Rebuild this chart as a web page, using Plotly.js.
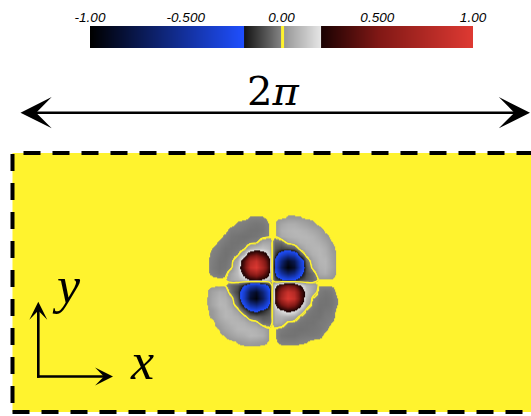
<!DOCTYPE html>
<html>
<head>
<meta charset="utf-8">
<script src="https://cdn.plot.ly/plotly-3.0.1.min.js"></script>
<style>html,body{margin:0;padding:0;background:#fff;}#chart{width:531px;height:416px;}</style>
</head>
<body>
<div id="chart"></div>
<script>
// ---------------- data ----------------
// colour-bar range and labels
const cbTickVals = [-1, -0.5, 0, 0.5, 1];
const cbTickText = ['-1.00', '-0.500', '0.00', '0.500', '1.00'];
const cbStripX = [-1, 0, 1];
const cbStripY = [0, 1];
const cbStripZ = [[-1, 0, 1], [-1, 0, 1]];

// domain: [0, 2pi] x [0, pi]; vortex centre
const domainX = [0, 2 * Math.PI];
const domainY = [0, Math.PI];
const vortexCenter = [3.12, Math.PI / 2];
const gridStep = 0.075;          // spacing of the sampled field
const gridCount = 24;            // 24 x 24 samples

const vortRows = [
 [0,0,0,0,0,0,0,0,0,0,0,0, 0,0,0,0,0,0,0,0,0,0,0,0],
 [0,0,0,0,0,0,0,0,-0.01,-0.011,-0.01,0, 0,0,0.012,0.012,0.01,0,0,0,0,0,0,0],
 [0,0,0,0,0,0,-0.012,-0.018,-0.025,-0.03,-0.025,-0.006, 0.006,0.045,0.065,0.065,0.05,0.035,0.015,0,0,0,0,0],
 [0,0,0,0,0,-0.02,-0.022,-0.028,-0.035,-0.035,-0.03,-0.006, 0.006,0.065,0.08,0.085,0.08,0.07,0.05,0.03,0,0,0,0],
 [0,0,0,0,-0.015,-0.03,-0.035,-0.038,-0.035,-0.03,-0.02,-0.006, 0.006,0.05,0.07,0.08,0.085,0.085,0.075,0.05,0.02,0,0,0],
 [0,0,0,-0.012,-0.025,-0.035,-0.035,-0.03,-0.018,-0.01,0.05,0.05, -0.05,-0.05,0.02,0.04,0.07,0.08,0.08,0.07,0.045,0.01,0,0],
 [0,0,-0.009,-0.022,-0.035,-0.035,-0.028,-0.012,0.07,0.1,0.115,0.08, -0.08,-0.115,-0.1,-0.07,0.025,0.065,0.08,0.085,0.065,0.02,0,0],
 [0,0,-0.014,-0.028,-0.038,-0.03,-0.012,0.1,0.38,0.46,0.32,0.135, -0.135,-0.32,-0.46,-0.38,-0.1,0.025,0.07,0.085,0.07,0.035,0,0],
 [0,0,-0.018,-0.035,-0.035,-0.018,0.06,0.37,0.75,0.88,0.61,0.25, -0.25,-0.61,-0.88,-0.75,-0.37,-0.06,0.04,0.08,0.085,0.04,0,0],
 [0,0,-0.022,-0.035,-0.03,-0.01,0.1,0.42,0.86,0.98,0.72,0.29, -0.29,-0.72,-0.98,-0.86,-0.42,-0.1,0.02,0.07,0.08,0.045,0,0],
 [0,0,-0.015,-0.03,-0.02,0.045,0.1,0.27,0.56,0.67,0.48,0.195, -0.195,-0.48,-0.67,-0.56,-0.27,-0.1,-0.045,0.05,0.065,0.03,0,0],
 [0,0,0,0,0,0.05,0.078,0.125,0.22,0.27,0.19,0.1, -0.1,-0.19,-0.27,-0.22,-0.125,-0.078,-0.05,0.006,0.006,0.006,0,0],
 [0,0,0,0,0,-0.05,-0.088,-0.2,-0.41,-0.48,-0.35,-0.15, 0.15,0.35,0.48,0.41,0.2,0.088,0.05,-0.006,-0.006,-0.006,0,0],
 [0,0,0.04,0.065,0.05,-0.045,-0.12,-0.38,-0.77,-0.89,-0.63,-0.26, 0.26,0.63,0.89,0.77,0.38,0.12,0.045,-0.02,-0.03,-0.025,0,0],
 [0,0,0.05,0.08,0.07,0.025,-0.09,-0.41,-0.85,-0.97,-0.71,-0.29, 0.29,0.71,0.97,0.85,0.41,0.09,-0.01,-0.03,-0.035,-0.03,-0.009,0],
 [0,0,0.05,0.085,0.08,0.04,-0.05,-0.26,-0.53,-0.63,-0.46,-0.19, 0.19,0.46,0.63,0.53,0.26,0.05,-0.018,-0.035,-0.035,-0.03,-0.009,0],
 [0,0,0.02,0.065,0.085,0.07,0.025,-0.08,-0.2,-0.25,-0.17,-0.095, 0.095,0.17,0.25,0.2,0.08,-0.012,-0.03,-0.038,-0.028,-0.025,0,0],
 [0,0,0.015,0.055,0.085,0.08,0.065,0.025,-0.05,-0.07,-0.08,-0.065, 0.065,0.08,0.07,0.05,-0.012,-0.028,-0.035,-0.035,-0.022,-0.018,0,0],
 [0,0,0,0.035,0.06,0.08,0.08,0.07,0.04,0.02,-0.045,-0.046, 0.046,0.045,-0.01,-0.018,-0.03,-0.035,-0.035,-0.025,-0.02,-0.009,0,0],
 [0,0,0,0.01,0.04,0.06,0.085,0.085,0.08,0.07,0.05,0.006, -0.006,-0.02,-0.03,-0.035,-0.038,-0.035,-0.03,-0.025,-0.014,0,0,0],
 [0,0,0,0,0.01,0.035,0.055,0.065,0.085,0.08,0.065,0.006, -0.006,-0.03,-0.035,-0.035,-0.028,-0.025,-0.025,-0.018,0,0,0,0],
 [0,0,0,0,0,0,0.012,0.025,0.035,0.03,0.02,0.004, -0.004,-0.018,-0.02,-0.02,-0.014,-0.01,0,0,0,0,0,0],
 [0,0,0,0,0,0,0,0,0,0,0,0, 0,0,0,0,0,0,0,0,0,0,0,0],
 [0,0,0,0,0,0,0,0,0,0,0,0, 0,0,0,0,0,0,0,0,0,0,0,0]
];

// ---------------- styling ----------------
const YELLOW = '#fff32e';
const colorscale = [
  [0.0, '#000000'],
  [0.4, '#1f4fff'],
  [0.4001, '#141414'],
  [0.496, '#838383'],
  [0.4961, YELLOW],
  [0.5039, YELLOW],
  [0.504, '#979797'],
  [0.5999, '#e6e6e6'],
  [0.6, '#1a0202'],
  [0.75, '#801815'],
  [1.0, '#e03a33']
];

const zField = vortRows.slice().reverse();   // Plotly wants bottom row first
const half = (gridCount - 1) / 2;
const fx0 = vortexCenter[0] - half * gridStep;
const fy0 = vortexCenter[1] - half * gridStep;

const traces = [
  {
    type: 'heatmap', z: zField, x0: fx0, dx: gridStep, y0: fy0, dy: gridStep,
    zsmooth: 'best', colorscale: colorscale, zmin: -1, zmax: 1,
    showscale: false, hoverinfo: 'skip', xaxis: 'x', yaxis: 'y'
  },
  {
    type: 'contour', z: zField, x0: fx0, dx: gridStep, y0: fy0, dy: gridStep,
    autocontour: false, contours: {start: 0, end: 0, size: 1, coloring: 'none'},
    line: {color: YELLOW, width: 1.3, smoothing: 0.8},
    showscale: false, hoverinfo: 'skip', xaxis: 'x', yaxis: 'y'
  },
  {
    type: 'heatmap', z: cbStripZ, x: cbStripX, y: cbStripY,
    zsmooth: 'best', colorscale: colorscale, zmin: -1, zmax: 1,
    showscale: false, hoverinfo: 'skip', xaxis: 'x2', yaxis: 'y2'
  }
];

const W = 531, H = 416;
const px = v => v / W;
const py = v => (H - v) / H;

const layout = {
  width: W, height: H,
  margin: {l: 0, r: 0, t: 0, b: 0},
  paper_bgcolor: '#ffffff',
  plot_bgcolor: 'rgba(0,0,0,0)',
  showlegend: false,
  xaxis: {domain: [0, 1], range: [-0.1503, 6.2350], visible: false, fixedrange: true},
  yaxis: {domain: [0, 0.68], range: [-0.0485, 3.383], visible: false, fixedrange: true},
  xaxis2: {
    domain: [0.1695, 0.8908], range: [-1, 1], anchor: 'y2', side: 'top',
    tickmode: 'array', tickvals: cbTickVals, ticktext: cbTickText,
    ticks: '', showgrid: false, zeroline: false, showline: false, fixedrange: true,
    tickfont: {family: 'Liberation Sans, Arial, sans-serif', size: 13.5, style: 'italic', color: '#000'}
  },
  yaxis2: {domain: [0.8846, 0.9375], range: [0, 1], anchor: 'x2', visible: false, fixedrange: true},
  shapes: [
    {type: 'rect', xref: 'x', yref: 'y', x0: domainX[0], x1: domainX[1], y0: domainY[0], y1: domainY[1],
     fillcolor: YELLOW, line: {width: 0}, layer: 'below'},
    {type: 'rect', xref: 'x', yref: 'y', x0: domainX[0], x1: domainX[1], y0: domainY[0], y1: domainY[1],
     fillcolor: 'rgba(0,0,0,0)', line: {color: '#000', width: 4, dash: '17px,12px'}, layer: 'above'}
  ],
  annotations: [
    {xref: 'paper', yref: 'paper', x: px(531), y: py(112.7), ax: -512, ay: 0, text: '',
     showarrow: true, arrowside: 'end+start', arrowhead: 3, startarrowhead: 3,
     arrowsize: 2.0, startarrowsize: 2.0, arrowwidth: 2.6, arrowcolor: '#000', standoff: 0, startstandoff: 0},
    {xref: 'paper', yref: 'paper', x: px(273), y: py(66), text: '2<i>π</i>', showarrow: false,
     font: {family: 'DejaVu Serif, serif', size: 40, color: '#000'}},
    {xref: 'paper', yref: 'paper', x: px(38.3), y: py(301.7), ax: 0, ay: 77.5, text: '',
     showarrow: true, arrowhead: 3, arrowsize: 1.15, arrowwidth: 2.6, arrowcolor: '#000', standoff: 0},
    {xref: 'paper', yref: 'paper', x: px(113), y: py(376.5), ax: -77.5, ay: 0, text: '',
     showarrow: true, arrowhead: 3, arrowsize: 1.15, arrowwidth: 2.6, arrowcolor: '#000', standoff: 0},
    {xref: 'paper', yref: 'paper', x: px(50), y: py(315.5), text: '<i>y</i>', showarrow: false,
     font: {family: 'Liberation Serif, serif', size: 52, color: '#000'}},
    {xref: 'paper', yref: 'paper', x: px(128), y: py(392), text: '<i>x</i>', showarrow: false,
     font: {family: 'Liberation Serif, serif', size: 52, color: '#000'}}
  ]
};

Plotly.newPlot('chart', traces, layout, {displayModeBar: false, staticPlot: true});
</script>
</body>
</html>
